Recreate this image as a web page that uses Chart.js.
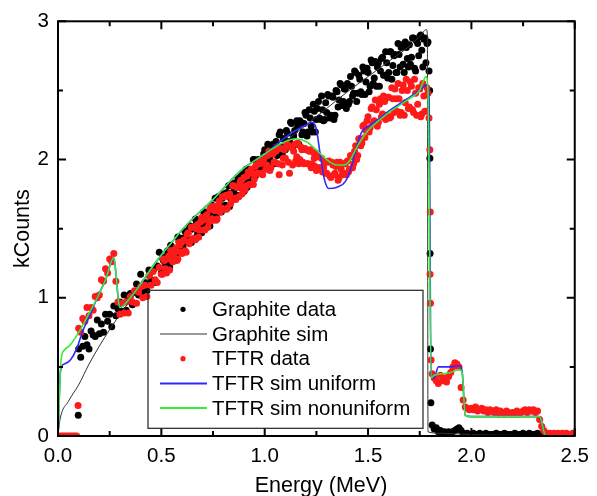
<!DOCTYPE html>
<html>
<head>
<meta charset="utf-8">
<script src="https://cdn.jsdelivr.net/npm/chart.js@4.4.0/dist/chart.umd.min.js"></script>
<style>
  html, body { margin: 0; padding: 0; background: #fff; }
</style>
</head>
<body>
<canvas id="myChart" width="597" height="496"></canvas>
<script>
// one channel every 0.01 MeV
const channelStep = 0.01;

// Graphite data, channels from 0.10 MeV to 2.50 MeV (kCounts)
const graphiteStart = 0.10;
const graphiteCounts = [
  .63, .57, .65, .72, .66, .63, .76, .73, .72, .84,
  .74, .81, .75, .88, .83, .88, .79, .94, .87, .92,
  .97, .90, 1.02, .91, .98, 1.03, .95, 1.04, 1.10, 1.02,
  1.17, 1.04, 1.11, 1.05, 1.20, 1.13, 1.20, 1.11, 1.23, 1.33,
  1.18, 1.27, 1.24, 1.34, 1.22, 1.32, 1.36, 1.30, 1.44, 1.36,
  1.43, 1.34, 1.44, 1.41, 1.52, 1.42, 1.50, 1.55, 1.44, 1.56,
  1.52, 1.62, 1.51, 1.61, 1.65, 1.57, 1.72, 1.63, 1.68, 1.62,
  1.75, 1.67, 1.76, 1.66, 1.82, 1.77, 1.74, 1.87, 1.80, 1.87,
  1.77, 1.93, 1.85, 1.93, 1.85, 2.00, 1.93, 2.00, 1.93, 2.00,
  2.07, 1.98, 2.05, 1.98, 2.11, 2.08, 2.03, 2.18, 2.09, 2.15,
  2.07, 2.19, 2.13, 2.26, 2.17, 2.11, 2.24, 2.28, 2.18, 2.26,
  2.32, 2.20, 2.30, 2.20, 2.35, 2.29, 2.42, 2.29, 2.36, 2.29,
  2.34, 2.46, 2.32, 2.45, 2.32, 2.49, 2.43, 2.54, 2.42, 2.51,
  2.55, 2.42, 2.53, 2.48, 2.63, 2.48, 2.58, 2.47, 2.64, 2.56,
  2.63, 2.53, 2.70, 2.59, 2.53, 2.70, 2.64, 2.74, 2.61, 2.70,
  2.63, 2.78, 2.68, 2.76, 2.63, 2.76, 2.81, 2.69, 2.85, 2.73,
  2.83, 2.74, 2.88, 2.64, 2.84, 2.89, 2.79, 2.87, 2.70, 2.85,
  1.32,
  .08, .05, .06, .03, .04, .02, .03, .02, .03,
  .02, .03, .04, .05, .06, .04, .02, .01, .02, .01,
  .01, .02, .01, .01, .02, .01, .01, .02, .01, .01,
  .01, .01, .02, .01, .01, .01, .02, .01, .01, .01,
  .01, .02, .01, .01, .01, .02, .01, .01, .02, .01,
  .01, .01, .02, .01, .01, .00, .01, .00, .00, .01,
  .00, .01, .00, .00, .01, .00, .00, .01, .00, .00, .00
];
// second read-out between the channels, 0.505 MeV to 1.795 MeV
const graphiteMidStart = 0.505;
const graphiteMidCounts = [
  1.29, 1.19, 1.30, 1.27, 1.38, 1.28, 1.34, 1.28, 1.41, 1.35,
  1.36, 1.48, 1.40, 1.50, 1.40, 1.50, 1.57, 1.46, 1.56, 1.47,
  1.62, 1.54, 1.61, 1.52, 1.67, 1.62, 1.59, 1.73, 1.64, 1.72,
  1.66, 1.76, 1.81, 1.72, 1.71, 1.83, 1.82, 1.74, 1.89, 1.82,
  1.91, 1.80, 1.91, 1.88, 2.00, 1.88, 1.98, 1.92, 1.91, 2.04,
  1.95, 2.11, 2.01, 2.09, 1.97, 2.13, 2.07, 2.20, 2.04, 2.15,
  2.21, 2.10, 2.27, 2.09, 2.21, 2.28, 2.11, 2.27, 2.20, 2.34,
  2.17, 2.36, 2.24, 2.40, 2.20, 2.37, 2.30, 2.46, 2.28, 2.41,
  2.47, 2.30, 2.46, 2.29, 2.50, 2.38, 2.55, 2.39, 2.51, 2.37,
  2.40, 2.60, 2.46, 2.64, 2.42, 2.61, 2.49, 2.67, 2.47, 2.66,
  2.49, 2.72, 2.55, 2.71, 2.67, 2.53, 2.73, 2.61, 2.78, 2.59,
  2.78, 2.58, 2.75, 2.63, 2.84, 2.67, 2.83, 2.63, 2.81, 2.67,
  2.69, 2.88, 2.66, 2.86, 2.75, 2.90, 2.67, 2.88, 2.84, 2.64
];
// points off the channel grid (low outlier and the edge at 1.8 MeV)
const graphiteExtra = [[0.098, 0.15], [1.798, 2.50], [1.799, 2.01], [1.802, 0.63], [1.804, 0.24]];

// TFTR data, channels from 0.00 MeV to 2.50 MeV
const tftrStart = 0.00;
const tftrCounts = [
  0, 0, 0, 0, 0, 0, 0, 0, 0, 0,
  .78, .75, .85, .83, .93, .87, .93, .91, 1.01, 1.00,
  1.02, 1.13, 1.12, 1.21, 1.18, 1.28, 1.26, 1.32, 1.12, .97,
  .88, .96, .89, .97, .89, 1.01, .97, 1.05, .96, 1.04,
  1.08, 1.00, 1.09, 1.01, 1.16, 1.09, 1.19, 1.13, 1.11, 1.22,
  1.17, 1.28, 1.21, 1.28, 1.20, 1.34, 1.30, 1.36, 1.28, 1.38,
  1.32, 1.42, 1.33, 1.47, 1.41, 1.51, 1.43, 1.50, 1.44, 1.55,
  1.56, 1.49, 1.60, 1.55, 1.66, 1.56, 1.63, 1.57, 1.70, 1.65,
  1.64, 1.74, 1.65, 1.75, 1.72, 1.81, 1.71, 1.80, 1.83, 1.75,
  1.87, 1.81, 1.91, 1.82, 1.90, 1.86, 1.96, 1.90, 1.97, 1.89,
  2.02, 1.96, 2.06, 1.94, 2.04, 1.98, 2.09, 1.89, 2.08, 2.01,
  2.01, 2.11, 1.90, 2.09, 2.06, 1.99, 2.12, 2.00, 2.07, 1.97,
  2.07, 1.97, 2.07, 1.97, 2.01, 1.92, 2.02, 1.94, 1.91, 1.98,
  1.90, 1.99, 1.87, 1.96, 1.90, 1.98, 1.87, 1.93, 1.90, 1.97,
  1.99, 1.93, 2.02, 1.97, 2.10, 2.03, 2.15, 2.12, 2.25, 2.21,
  2.31, 2.23, 2.38, 2.28, 2.36, 2.27, 2.44, 2.33, 2.42, 2.32,
  2.45, 2.31, 2.44, 2.51, 2.35, 2.44, 2.34, 2.54, 2.41, 2.50,
  2.38, 2.53, 2.34, 2.48, 2.40, 2.51, 2.33, 2.46, 2.35, 2.48,
  1.17,
  .45, .42, .40, .38, .44, .40, .42, .39, .43,
  .46, .50, .53, .52, .50, .35, .26, .21, .20, .19,
  .20, .19, .21, .18, .19, .20, .18, .19, .17, .19,
  .18, .17, .19, .16, .18, .17, .16, .18, .17, .16,
  .17, .16, .18, .16, .17, .18, .19, .17, .19, .18,
  .19, .17, .18, .12, .07, .04, .02, .02, .02, .01,
  .02, .01, .02, .01, .02, .01, .02, .01, .01, .02, .01
];
const tftrMidStart = 0.505;
const tftrMidCounts = [
  1.17, 1.27, 1.18, 1.30, 1.34, 1.26, 1.33, 1.27, 1.40, 1.33,
  1.41, 1.34, 1.46, 1.39, 1.51, 1.43, 1.42, 1.53, 1.49, 1.58,
  1.49, 1.59, 1.51, 1.64, 1.57, 1.66, 1.56, 1.67, 1.62, 1.73,
  1.73, 1.64, 1.74, 1.68, 1.81, 1.72, 1.80, 1.73, 1.85, 1.79,
  1.78, 1.88, 1.82, 1.93, 1.82, 1.95, 1.90, 1.99, 1.90, 2.00,
  1.93, 2.03, 1.92, 2.06, 1.98, 2.06, 1.97, 2.08, 1.96, 2.07,
  2.09, 1.98, 2.09, 1.96, 2.11, 2.02, 1.97, 2.09, 1.98, 2.08,
  1.97, 2.06, 1.94, 2.05, 1.95, 2.04, 1.94, 2.01, 1.94, 1.90,
  1.98, 1.88, 1.98, 1.89, 1.95, 1.85, 1.98, 1.89, 1.97, 1.89,
  1.91, 2.03, 1.94, 2.06, 2.00, 2.15, 2.10, 2.24, 2.16, 2.28,
  2.20, 2.37, 2.26, 2.43, 2.24, 2.40, 2.31, 2.46, 2.29, 2.45,
  2.30, 2.52, 2.34, 2.44, 2.55, 2.32, 2.50, 2.32, 2.58, 2.37,
  2.56, 2.36, 2.58, 2.32, 2.52, 2.31, 2.55, 2.35, 2.52, 2.30
];
const tftrExtra = [[0.097, 0.22], [1.799, 2.07], [1.801, 1.62], [1.802, 0.96], [1.805, 0.55]];

// simulations [energy, kCounts]
const graphiteSim = [
  [0.000, 0.00], [0.010, 0.12], [0.050, 0.25], [0.100, 0.37], [0.150, 0.52], [0.200, 0.65],
  [0.250, 0.77], [0.300, 0.88], [0.350, 0.98], [0.400, 1.07], [0.500, 1.23], [0.600, 1.39],
  [0.700, 1.55], [0.800, 1.70], [0.900, 1.85], [1.000, 2.00], [1.100, 2.13], [1.200, 2.25],
  [1.300, 2.37], [1.400, 2.49], [1.500, 2.60], [1.600, 2.71], [1.700, 2.82], [1.750, 2.89],
  [1.782, 2.94], [1.787, 2.90], [1.790, 0.03], [1.850, 0.02], [2.000, 0.01], [2.500, 0.00]
];
const tftrSimUniform = [
  [0.000, 0.00], [0.012, 0.47], [0.030, 0.52], [0.060, 0.55], [0.090, 0.63], [0.120, 0.76],
  [0.150, 0.86], [0.190, 1.00], [0.230, 1.13], [0.270, 1.29], [0.282, 1.15], [0.292, 0.98],
  [0.300, 0.93], [0.350, 1.00], [0.400, 1.10], [0.450, 1.21], [0.500, 1.31], [0.550, 1.40],
  [0.600, 1.49], [0.650, 1.57], [0.700, 1.64], [0.750, 1.71], [0.800, 1.79], [0.850, 1.87],
  [0.900, 1.94], [0.950, 1.99], [1.000, 2.04], [1.050, 2.10], [1.100, 2.16], [1.150, 2.21],
  [1.200, 2.25], [1.230, 2.27], [1.250, 2.22], [1.270, 2.02], [1.290, 1.85], [1.310, 1.79],
  [1.350, 1.80], [1.390, 1.84], [1.420, 1.95], [1.450, 2.12], [1.470, 2.20], [1.500, 2.24],
  [1.550, 2.29], [1.600, 2.35], [1.650, 2.40], [1.700, 2.45], [1.750, 2.50], [1.785, 2.54],
  [1.795, 2.45], [1.805, 0.42], [1.820, 0.42], [1.840, 0.50], [1.900, 0.50], [1.940, 0.51],
  [1.955, 0.47], [1.970, 0.15], [2.000, 0.14], [2.330, 0.14], [2.360, 0.00], [2.500, 0.00]
];
const tftrSimNonuniform = [
  [0.000, 0.00], [0.015, 0.55], [0.030, 0.62], [0.060, 0.66], [0.100, 0.75], [0.130, 0.83],
  [0.190, 1.00], [0.230, 1.13], [0.270, 1.29], [0.282, 1.15], [0.292, 0.98], [0.300, 0.93],
  [0.350, 1.00], [0.400, 1.10], [0.450, 1.21], [0.500, 1.31], [0.550, 1.40], [0.600, 1.49],
  [0.650, 1.57], [0.700, 1.64], [0.750, 1.71], [0.800, 1.79], [0.850, 1.87], [0.900, 1.94],
  [0.950, 1.99], [1.000, 2.04], [1.050, 2.09], [1.100, 2.13], [1.150, 2.15], [1.200, 2.13],
  [1.250, 2.07], [1.300, 2.00], [1.350, 1.96], [1.380, 1.96], [1.410, 1.99], [1.450, 2.10],
  [1.500, 2.21], [1.550, 2.28], [1.600, 2.34], [1.650, 2.39], [1.700, 2.44], [1.750, 2.50],
  [1.780, 2.60], [1.790, 2.50], [1.805, 0.42], [1.820, 0.44], [1.860, 0.45], [1.900, 0.46],
  [1.940, 0.48], [1.955, 0.46], [1.970, 0.15], [2.000, 0.14], [2.330, 0.14], [2.360, 0.00],
  [2.500, 0.00]
];

const legendLabels = ["Graphite data", "Graphite sim", "TFTR data", "TFTR sim uniform", "TFTR sim nonuniform"];

const FONT = "'Liberation Sans', Arial, sans-serif";

function channels(start, counts) {
  return counts.map((c, i) => ({ x: +(start + i * channelStep).toFixed(3), y: c }));
}
function pairs(list) {
  return list.map(p => ({ x: p[0], y: p[1] }));
}

// frame, inward ticks, axis titles and the boxed legend
const decorations = {
  id: "decorations",
  afterDatasetsDraw(chart) {
    const { ctx, chartArea: a, scales: { x, y } } = chart;
    ctx.save();
    ctx.strokeStyle = "#000";
    ctx.lineWidth = 2;
    ctx.strokeRect(a.left, a.top, a.right - a.left, a.bottom - a.top);
    ctx.beginPath();
    for (let i = 0; i <= 10; i++) {
      const px = x.getPixelForValue(i * 0.25), len = i % 2 ? 5 : 8;
      ctx.moveTo(px, a.bottom); ctx.lineTo(px, a.bottom - len);
      ctx.moveTo(px, a.top); ctx.lineTo(px, a.top + len);
    }
    for (let i = 0; i <= 6; i++) {
      const py = y.getPixelForValue(i * 0.5), len = i % 2 ? 5 : 8;
      ctx.moveTo(a.left, py); ctx.lineTo(a.left + len, py);
      ctx.moveTo(a.right, py); ctx.lineTo(a.right - len, py);
    }
    ctx.stroke();

    ctx.fillStyle = "#000";
    ctx.font = "21.5px " + FONT;
    ctx.textAlign = "center";
    ctx.textBaseline = "middle";
    ctx.fillText("Energy (MeV)", 321, 486);
    ctx.save();
    ctx.translate(23, (a.top + a.bottom) / 2);
    ctx.rotate(-Math.PI / 2);
    ctx.fillText("kCounts", 0, 0);
    ctx.restore();

    // legend box
    const bx = a.left + 90, by = a.top + 269, bw = 275, bh = 138;
    ctx.lineWidth = 1.2;
    ctx.strokeStyle = "#222";
    ctx.strokeRect(bx, by, bw, bh);
    const styles = [
      { dot: "#000" }, { line: "#333", w: 1 }, { dot: "#ff1a1a" },
      { line: "#2b2bff", w: 2 }, { line: "#3ae83a", w: 2 }
    ];
    ctx.font = "20.5px " + FONT;
    ctx.textAlign = "left";
    legendLabels.forEach((t, i) => {
      const cy = by + 19 + i * 24.7;
      const s = styles[i];
      if (s.dot) {
        ctx.fillStyle = s.dot;
        ctx.beginPath();
        ctx.arc(bx + 35, cy, 2.6, 0, Math.PI * 2);
        ctx.fill();
      } else {
        ctx.strokeStyle = s.line;
        ctx.lineWidth = s.w;
        ctx.beginPath();
        ctx.moveTo(bx + 12, cy); ctx.lineTo(bx + 59, cy);
        ctx.stroke();
      }
      ctx.fillStyle = "#000";
      ctx.fillText(t, bx + 64, cy + 1);
    });
    ctx.restore();
  }
};

const ctx = document.getElementById("myChart").getContext("2d");
const myChart = new Chart(ctx, {
  type: "scatter",
  data: {
    datasets: [{
      label: legendLabels[0],
      data: channels(graphiteStart, graphiteCounts)
        .concat(channels(graphiteMidStart, graphiteMidCounts), pairs(graphiteExtra)),
      backgroundColor: "#000",
      borderColor: "#000",
      pointRadius: 3.5,
      pointBorderWidth: 0,
      order: 5,
      clip: 0,
    }, {
      label: legendLabels[1],
      data: pairs(graphiteSim),
      showLine: true,
      borderColor: "#333",
      borderWidth: 1,
      pointRadius: 0,
      cubicInterpolationMode: "monotone",
      order: 4,
      clip: 0,
    }, {
      label: legendLabels[2],
      data: channels(tftrStart, tftrCounts)
        .concat(channels(tftrMidStart, tftrMidCounts), pairs(tftrExtra)),
      backgroundColor: "#ff1a1a",
      borderColor: "#ff1a1a",
      pointRadius: 3.5,
      pointBorderWidth: 0,
      order: 3,
      clip: 0,
    }, {
      label: legendLabels[3],
      data: pairs(tftrSimUniform),
      showLine: true,
      borderColor: "#2b2bff",
      borderWidth: 1.6,
      pointRadius: 0,
      cubicInterpolationMode: "monotone",
      order: 2,
      clip: 0,
    }, {
      label: legendLabels[4],
      data: pairs(tftrSimNonuniform),
      showLine: true,
      borderColor: "#3ae83a",
      borderWidth: 1.6,
      pointRadius: 0,
      cubicInterpolationMode: "monotone",
      order: 1,
      clip: 0,
    }]
  },
  options: {
    responsive: false,
    animation: false,
    layout: { padding: { top: 20, right: 16, left: 0, bottom: 0 } },
    plugins: { legend: { display: false }, tooltip: { enabled: false } },
    scales: {
      x: {
        type: "linear",
        min: 0, max: 2.5,
        grid: { display: false, drawTicks: false, tickLength: 0 },
        border: { display: false },
        ticks: {
          stepSize: 0.5, padding: 8, color: "#000",
          font: { family: FONT, size: 20.5 },
          maxRotation: 0,
          callback: v => v.toFixed(1)
        },
        afterFit: s => { s.height = 60; }
      },
      y: {
        min: 0, max: 3,
        grid: { display: false, drawTicks: false, tickLength: 0 },
        border: { display: false },
        ticks: {
          stepSize: 1, padding: 9, color: "#000",
          font: { family: FONT, size: 20.5 },
          callback: v => String(v)
        },
        afterFit: s => { s.width = 58; }
      }
    }
  },
  plugins: [decorations]
});
</script>
</body>
</html>
